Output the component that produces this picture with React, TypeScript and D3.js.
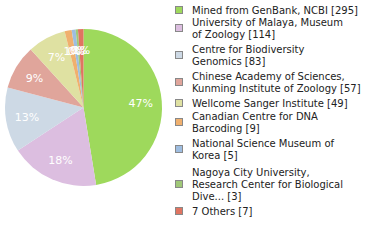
import React from "react";
import * as d3 from "d3";

const labels: string[][] = [
  ["Mined from GenBank, NCBI [295]"],
  ["University of Malaya, Museum", "of Zoology [114]"],
  ["Centre for Biodiversity", "Genomics [83]"],
  ["Chinese Academy of Sciences,", "Kunming Institute of Zoology [57]"],
  ["Wellcome Sanger Institute [49]"],
  ["Canadian Centre for DNA", "Barcoding [9]"],
  ["National Science Museum of", "Korea [5]"],
  ["Nagoya City University,", "Research Center for Biological", "Dive... [3]"],
  ["7 Others [7]"],
];
const values: number[] = [295, 114, 83, 57, 49, 9, 5, 3, 7];
const colors: string[] = [
  "#9ed95c", "#dcbee0", "#cdd9e5", "#e0a59b", "#dfe1a2",
  "#f0b06e", "#9ebde0", "#a0c878", "#e07461",
];
const legendY: number[] = [10, 28, 55, 82, 103, 122, 149, 184, 211];

export default function App() {
  const cx = 83.5, cy = 107.5, r = 78.5;
  const total = d3.sum(values);
  const pie = d3.pie<number>().sort(null).value((d) => d);
  const arcs = pie(values);
  const arc = d3.arc<d3.PieArcDatum<number>>().innerRadius(0).outerRadius(r);
  const labelArc = d3.arc<d3.PieArcDatum<number>>().innerRadius(r * 0.73).outerRadius(r * 0.73);
  return (
    <svg width={380} height={240} style={{ position: "absolute", left: 0, top: 0 }}>
      <g transform={`translate(${cx},${cy})`}>
        {arcs.map((a, i) => (
          <path key={i} d={arc(a) || ""} fill={colors[i]} />
        ))}
        {arcs.map((a, i) => {
          const [x, y] = labelArc.centroid(a);
          return (
            <text key={i} x={x} y={y} dy="0.35em" textAnchor="middle" fill="#fff"
              fontFamily="DejaVu Sans" fontSize={11}>
              {Math.floor((values[i] / total) * 100)}%
            </text>
          );
        })}
      </g>
      {labels.map((lines, i) => {
        const y0 = legendY[i];
        const n = lines.length;
        return (
          <g key={i}>
            <rect x={175.5} y={y0 - 3.5} width={7} height={7} fill={colors[i]} stroke="#888" strokeWidth={1} />
            {lines.map((t, j) => (
              <text key={j} x={192} y={y0 + (j - (n - 1) / 2) * 12} dy="0.35em"
                fontFamily="DejaVu Sans" fontSize={10} fill="#222">
                {t}
              </text>
            ))}
          </g>
        );
      })}
    </svg>
  );
}
